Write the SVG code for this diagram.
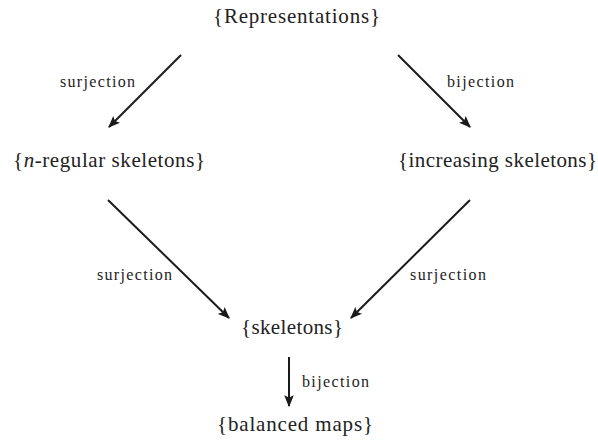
<svg xmlns="http://www.w3.org/2000/svg" width="598" height="444" viewBox="0 0 598 444" font-family="Liberation Serif, serif">
<style>
text{font-family:'Liberation Serif',serif}
.n{font-size:21px;fill:#222;text-anchor:middle}
.l{font-size:16px;fill:#222}
.c{stroke:#1a1a1a;stroke-width:2;fill:none;marker-end:url(#ah)}
</style>
<defs>
<marker id="ah" viewBox="0 0 10 8" refX="9" refY="4" markerWidth="6" markerHeight="5" orient="auto" markerUnits="strokeWidth">
<path d="M0,0 L10,4 L0,8 L2,4 Z" fill="#1a1a1a"/>
</marker>
</defs>
<rect width="598" height="444" fill="#fff"/>
<g id="connectors">
<line class="c" x1="181" y1="55" x2="109" y2="127"/>
<line class="c" x1="398" y1="55" x2="470" y2="127"/>
<line class="c" x1="108" y1="200" x2="229" y2="318"/>
<line class="c" x1="470" y1="200" x2="351" y2="318"/>
<line class="c" x1="289" y1="357" x2="289" y2="406"/>
<text class="l" x="60" y="87" textLength="75">surjection</text>
<text class="l" x="447" y="87" textLength="67">bijection</text>
<text class="l" x="97" y="280" textLength="75">surjection</text>
<text class="l" x="410" y="280" textLength="76">surjection</text>
<text class="l" x="302" y="387" textLength="67">bijection</text>
</g>
<g id="representations"><text class="n" x="296.5" y="23" textLength="167">{Representations}</text></g>
<g id="nregular"><text class="n" x="109" y="167" textLength="192">{<tspan font-style="italic">n</tspan>-regular skeletons}</text></g>
<g id="increasing"><text class="n" x="497.5" y="167" textLength="199">{increasing skeletons}</text></g>
<g id="skeletons"><text class="n" x="292" y="334" textLength="102">{skeletons}</text></g>
<g id="balanced"><text class="n" x="295" y="431" textLength="156">{balanced maps}</text></g>
</svg>
